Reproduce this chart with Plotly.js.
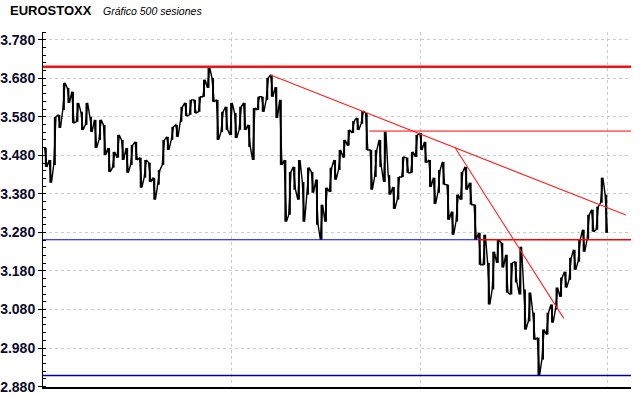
<!DOCTYPE html>
<html>
<head>
<meta charset="utf-8">
<script src="https://cdn.plot.ly/plotly-3.0.1.min.js"></script>
<style>html,body{margin:0;padding:0;background:#fff;}#chart{width:640px;height:398px;}</style>
</head>
<body>
<div id="chart"></div>
<script>
// EUROSTOXX, 500 sessions, grouped in blocks of 4 sessions (high / low of each block)
const blockSize = 4;
const highs = [3499,3468,3580,3585,3668,3655,3645,3616,3593,3616,3580,3572,3572,3559,3499,3489,3533,3520,3499,3507,
  3515,3474,3468,3461,3422,3442,3520,3528,3554,3559,3606,3616,3624,3624,3632,3676,3709,3681,3624,3593,
  3606,3616,3590,3606,3616,3559,3603,3632,3632,3681,3689,3657,3624,3468,3437,3450,3468,3411,3448,3437,
  3417,3352,3396,3448,3468,3494,3520,3546,3569,3577,3595,3590,3494,3494,3520,3541,3429,3398,3424,3476,
  3474,3489,3533,3538,3515,3468,3422,3442,3463,3404,3334,3378,3437,3450,3409,3352,3279,3274,3201,3230,
  3261,3253,3222,3201,3204,3243,3132,3124,3072,3007,3028,3072,3093,3137,3163,3178,3214,3235,3261,3287,
  3326,3339,3347,3422,3378];
const lows = [3450,3409,3455,3551,3598,3616,3564,3567,3546,3559,3541,3499,3520,3481,3437,3448,3474,3468,3435,3455,
  3468,3396,3422,3411,3365,3404,3455,3494,3520,3528,3567,3582,3585,3590,3593,3632,3655,3619,3520,3541,
  3546,3533,3525,3546,3546,3502,3468,3598,3593,3624,3632,3577,3455,3308,3326,3391,3365,3308,3378,3383,
  3300,3261,3308,3385,3417,3442,3474,3505,3538,3546,3562,3494,3391,3424,3450,3411,3378,3341,3365,3424,
  3435,3435,3476,3494,3461,3398,3354,3383,3404,3313,3274,3308,3365,3391,3352,3261,3196,3196,3093,3132,
  3201,3189,3124,3119,3150,3119,3028,3049,3002,2909,2950,3015,3046,3080,3113,3137,3157,3183,3204,3230,
  3261,3282,3287,3357,3279];

// horizontal levels and trend lines
const resistance = 3710;
const upperLevel = 3543, upperLevelFrom = 288;
const support = 3261, supportSwitch = 384;
const floorLevel = 2909;
const trendA = {x: [200, 515], y: [3689, 3325]};
const trendB = {x: [364, 460], y: [3499, 3057]};

const yTicks = [2880, 2980, 3080, 3180, 3280, 3380, 3480, 3580, 3680, 3780];
const xGrid = [166, 333, 498.5];

// build the price path (zig-zag through each block's range)
const xs = [], ys = [];
const bx = [], by = [];
let prev = null;
for (let k = 0; k < highs.length; k++) {
  const lo = lows[k], hi = highs[k];
  let first, second;
  if (prev === null) {
    const nextMid = (highs[k+1] + lows[k+1]) / 2;
    if (nextMid > (lo + hi) / 2) { first = lo; second = hi; } else { first = hi; second = lo; }
  } else {
    if (Math.abs(lo - prev) <= Math.abs(hi - prev)) { first = lo; second = hi; } else { first = hi; second = lo; }
  }
  xs.push(k * blockSize + 0.6, k * blockSize + 2.6);
  ys.push(first, second);
  prev = second;
  // vertical high-low bar for the block
  bx.push(k * blockSize + 1.6, k * blockSize + 1.6, null);
  by.push(lo, hi, null);
}

const path = {
  x: xs, y: ys, type: 'scatter', mode: 'lines',
  line: {color: '#000000', width: 1.4}, hoverinfo: 'skip', showlegend: false
};
const bars = {
  x: bx, y: by, type: 'scatter', mode: 'lines', connectgaps: false,
  line: {color: '#000000', width: 2}, hoverinfo: 'skip', showlegend: false
};

const shapes = [
  {type: 'line', xref: 'paper', yref: 'y', x0: 0, x1: 1, y0: resistance, y1: resistance, line: {color: '#f01414', width: 2.6}},
  {type: 'line', xref: 'x', yref: 'y', x0: upperLevelFrom, x1: 519.5, y0: upperLevel, y1: upperLevel, line: {color: '#ff0000', width: 1}},
  {type: 'line', xref: 'paper', yref: 'y', x0: 0, x1: (supportSwitch + 0.885) / 520.385, y0: support, y1: support, line: {color: '#0000ff', width: 1.1}},
  {type: 'line', xref: 'x', yref: 'y', x0: supportSwitch, x1: 519.5, y0: support, y1: support, line: {color: '#ff0000', width: 1.4}},
  {type: 'line', xref: 'paper', yref: 'y', x0: 0, x1: 1, y0: floorLevel, y1: floorLevel, line: {color: '#0000a0', width: 1.5}},
  {type: 'line', xref: 'x', yref: 'y', x0: trendA.x[0], x1: trendA.x[1], y0: trendA.y[0], y1: trendA.y[1], line: {color: '#ff2020', width: 1.1}},
  {type: 'line', xref: 'x', yref: 'y', x0: trendB.x[0], x1: trendB.x[1], y0: trendB.y[0], y1: trendB.y[1], line: {color: '#ff2020', width: 1.1}}
];

const layout = {
  width: 640, height: 398,
  margin: {l: 43, r: 9, t: 32, b: 10.5, pad: 0},
  paper_bgcolor: '#ffffff', plot_bgcolor: '#ffffff',
  separators: ',.',
  showlegend: false,
  xaxis: {
    range: [-0.885, 519.5], tickmode: 'array', tickvals: xGrid, showticklabels: false, ticks: '',
    showgrid: true, gridcolor: '#cccccc', griddash: 'dot', gridwidth: 1,
    showline: true, linecolor: '#000000', linewidth: 1.5, zeroline: false, fixedrange: true
  },
  yaxis: {
    range: [2879, 3800], tickmode: 'array', tickvals: yTicks, tickformat: ',d',
    ticks: 'outside', ticklen: 4, tickcolor: '#000000', tickwidth: 1,
    minor: {dtick: 20, tick0: 2880, ticks: 'inside', ticklen: 3, tickcolor: '#000000', showgrid: false},
    showgrid: true, gridcolor: '#cccccc', griddash: 'dot', gridwidth: 1,
    showline: true, linecolor: '#000000', linewidth: 1, zeroline: false, fixedrange: true,
    tickfont: {family: 'Liberation Sans, Arial, sans-serif', size: 14, color: '#0a0a2a', weight: 'bold'}
  },
  shapes: shapes,
  annotations: [
    {xref: 'paper', yref: 'paper', x: -0.0595, y: 1.0605, xanchor: 'left', yanchor: 'middle', showarrow: false,
     text: '<b>EUROSTOXX</b>', font: {family: 'Liberation Sans, Arial, sans-serif', size: 13, color: '#000000'}},
    {xref: 'paper', yref: 'paper', x: 0.0985, y: 1.0605, xanchor: 'left', yanchor: 'middle', showarrow: false,
     text: '<i>Gráfico 500 sesiones</i>', font: {family: 'Liberation Sans, Arial, sans-serif', size: 10.5, color: '#000000'}}
  ]
};

Plotly.newPlot('chart', [path, bars], layout, {staticPlot: true, displayModeBar: false});
</script>
</body>
</html>
